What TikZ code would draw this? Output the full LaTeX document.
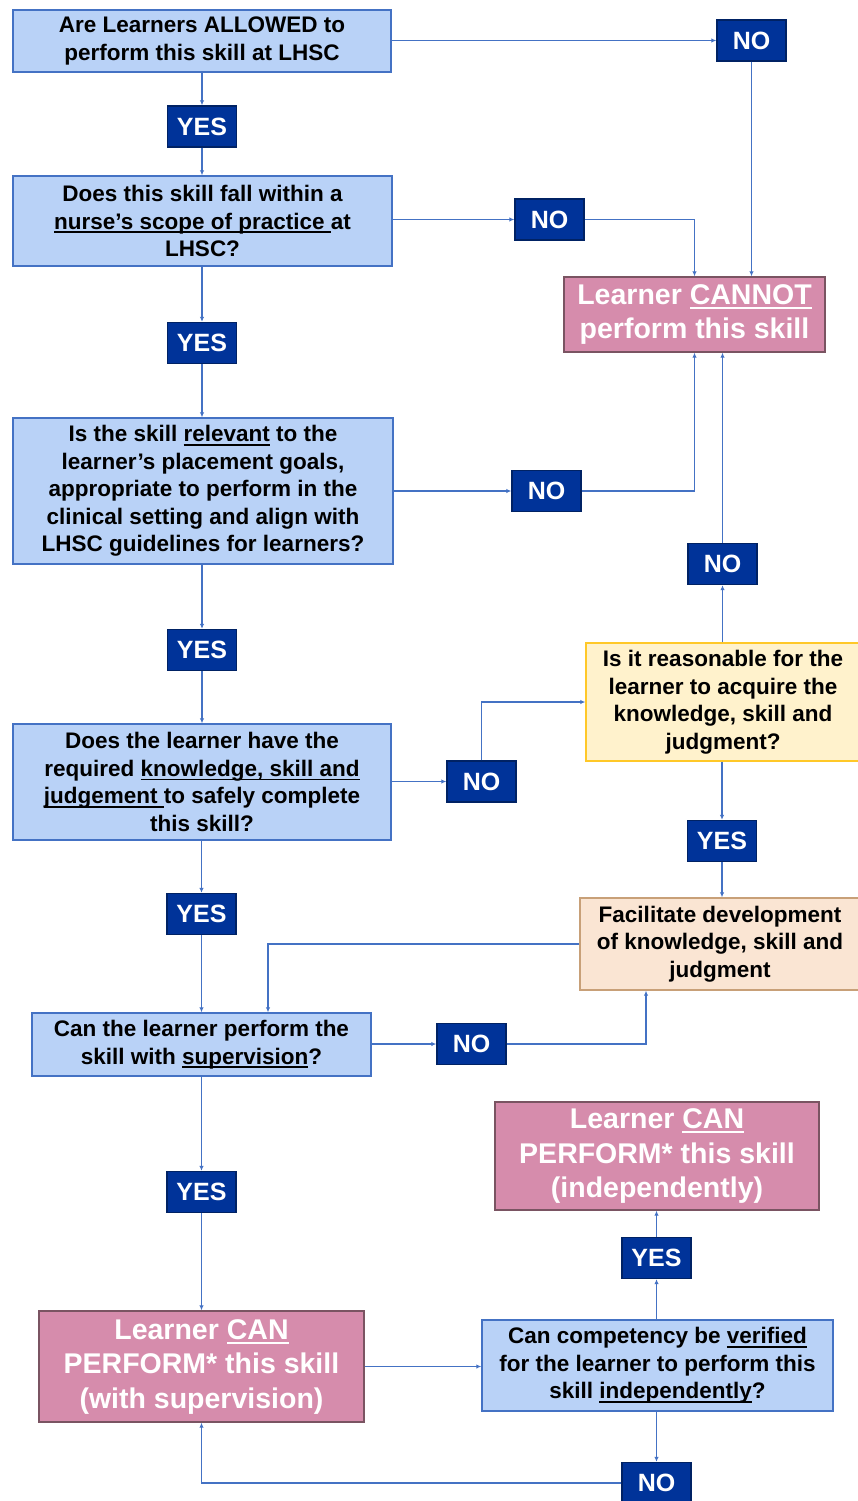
\documentclass[tikz,border=0pt]{standalone}
\usepackage{fontspec}
\setmainfont{Liberation Sans}
\usetikzlibrary{arrows.meta,positioning}
\newcommand\uln[1]{\setbox0=\hbox{#1}\leavevmode\rlap{\vrule height -0.1em depth 0.17em width \wd0}\box0\relax}
\definecolor{ln}{RGB}{68,114,196}
\definecolor{qfill}{RGB}{185,210,247}
\definecolor{lbfill}{RGB}{0,51,153}
\definecolor{lbdraw}{RGB}{0,34,100}
\definecolor{pkfill}{RGB}{214,140,172}
\definecolor{pkdraw}{RGB}{122,84,98}
\definecolor{ylfill}{RGB}{255,242,204}
\definecolor{yldraw}{RGB}{255,200,40}
\definecolor{pcfill}{RGB}{250,229,211}
\definecolor{pcdraw}{RGB}{200,160,120}
\begin{document}
\begin{tikzpicture}[x=1pt, y=-1pt,
      box/.style={draw, line width=1.4pt, align=center, inner sep=0pt},
      qbox/.style={box, draw=ln, fill=qfill, font=\fontsize{22.5}{27.5}\selectfont\bfseries},
      rbox/.style={qbox, draw=yldraw, fill=ylfill}, fbox/.style={qbox, draw=pcdraw, fill=pcfill},
      endbox/.style={box, draw=pkdraw, fill=pkfill, text=white, font=\fontsize{28.5}{34.5}\selectfont\bfseries},
      lbl/.style={box, draw=lbdraw, fill=lbfill, text=white, minimum width=69, minimum height=41, font=\fontsize{25}{30}\selectfont\bfseries},
      ar/.style={-{Latex[length=5pt,width=4.5pt]}, line width=1.9pt, draw=ln}]
    \useasboundingbox (0,0) rectangle (857,1501);
    \node[qbox, minimum width=378, minimum height=62] (q1) at (202,41) {Are Learners ALLOWED to\\perform this skill at LHSC};
    \node[lbl] (no1) at (751.5,40.5) {NO};
    \node[lbl] (yes1) at (202,126.5) {YES};
    \node[qbox, minimum width=379, minimum height=90] (q2) at (202.5,221) {Does this skill fall within a\\\uln{nurse's scope of practice }at\\LHSC?};
    \node[lbl] (no2) at (549.5,219.5) {NO};
    \node[endbox, minimum width=261, minimum height=75] (cannot) at (694.5,314.5) {Learner \uln{CANNOT}\\perform this skill};
    \node[lbl] (yes2) at (202,343) {YES};
    \node[qbox, minimum width=380, minimum height=146] (q3) at (203,491) {Is the skill \uln{relevant} to the\\learner's placement goals,\\appropriate to perform in the\\clinical setting and align with\\LHSC guidelines for learners?};
    \node[lbl] (no3) at (546.5,491) {NO};
    \node[lbl] (no4) at (722.5,564) {NO};
    \node[rbox, minimum width=274, minimum height=118] (reason) at (723,702) {Is it reasonable for the\\learner to acquire the\\knowledge, skill and\\judgment?};
    \node[lbl] (yes3) at (202,650) {YES};
    \node[qbox, minimum width=378, minimum height=116] (q4) at (202,782) {Does the learner have the\\required \uln{knowledge, skill and}\\\uln{judgement }to safely complete\\this skill?};
    \node[lbl] (no5) at (481.5,781.5) {NO};
    \node[lbl] (yes4) at (722,841) {YES};
    \node[fbox, minimum width=280, minimum height=92] (facil) at (720,944) {Facilitate development\\of knowledge, skill and\\judgment};
    \node[lbl] (yes5) at (201.5,914) {YES};
    \node[qbox, minimum width=339, minimum height=63] (q5) at (201.5,1044.5) {Can the learner perform the\\skill with \uln{supervision}?};
    \node[lbl] (no6) at (471.5,1044) {NO};
    \node[endbox, minimum width=324, minimum height=108] (canind) at (657,1156) {Learner \uln{CAN}\\PERFORM* this skill\\(independently)};
    \node[lbl] (yes6) at (201.5,1192) {YES};
    \node[lbl] (yes7) at (656.5,1258) {YES};
    \node[endbox, minimum width=325, minimum height=111] (cansup) at (201.5,1366.5) {Learner \uln{CAN}\\PERFORM* this skill\\(with supervision)};
    \node[qbox, minimum width=351, minimum height=91] (qcomp) at (657.5,1365.5) {Can competency be \uln{verified}\\for the learner to perform this\\skill \uln{independently}?};
    \node[lbl] (no7) at (656.5,1483) {NO};
    \draw[ar] (q1) -- (yes1); \draw[ar] (yes1) -- (yes1 |- q2.north);
    \draw[ar] (q1.east |- no1) -- (no1.west); \draw[ar] (no1) -- (no1 |- cannot.north);
    \draw[ar] (q2.east |- no2) -- (no2.west); \draw[ar] (no2.east) -| (cannot.north);
    \draw[ar] (q2.south -| yes2) -- (yes2); \draw[ar] (yes2) -- (yes2 |- q3.north);
    \draw[ar] (q3.east |- no3) -- (no3.west); \draw[ar] (no3.east) -| (cannot.south);
    \draw[ar] (reason.north -| no4) -- (no4); \draw[ar] (no4) -- (no4 |- cannot.south);
    \draw[ar] (q3.south -| yes3) -- (yes3); \draw[ar] (yes3) -- (yes3 |- q4.north);
    \draw[ar] (q4.east |- no5) -- (no5.west); \draw[ar] (no5.north) |- (reason.west);
    \draw[ar] (reason.south -| yes4) -- (yes4); \draw[ar] (yes4) -- (yes4 |- facil.north);
    \draw[ar] (q4.south -| yes5) -- (yes5); \draw[ar] (yes5) -- (yes5 |- q5.north);
    \draw[ar] (facil.west) -| ([xshift=66.5pt]q5.north);
    \draw[ar] (q5.east |- no6) -- (no6.west); \draw[ar] (no6.east) -| ([xshift=-74pt]facil.south);
    \draw[ar] (q5) -- (yes6); \draw[ar] (yes6) -- (cansup);
    \draw[ar] (cansup.east) -- (cansup.east -| qcomp.west);
    \draw[ar] (qcomp.north -| yes7) -- (yes7); \draw[ar] (yes7) -- (yes7 |- canind.south);
    \draw[ar] (qcomp.south -| no7) -- (no7); \draw[ar] (no7.west) -| (cansup.south);
  \end{tikzpicture}
\end{document}
